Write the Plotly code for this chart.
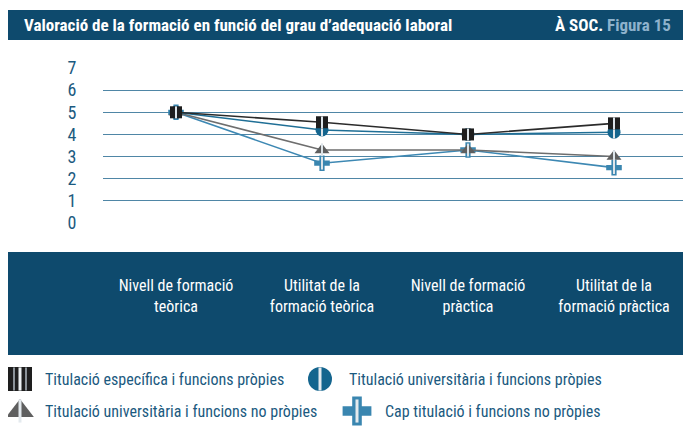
import plotly.graph_objects as go

W, H = 691, 436
OFF = 8  # page offset of the figure in the browser window

# data
categories = ['Nivell de formació<br>teòrica', 'Utilitat de la<br>formació teòrica',
              'Nivell de formació<br>pràctica', 'Utilitat de la<br>formació pràctica']
y_ticks = [0, 1, 2, 3, 4, 5, 6, 7]

especifica_propies = [5.0, 4.55, 4.0, 4.5]
universitaria_propies = [5.0, 4.2, 4.0, 4.1]
universitaria_no_propies = [5.0, 3.3, 3.3, 3.0]
cap_no_propies = [5.0, 2.7, 3.3, 2.5]

series_names = ['Titulació específica i funcions pròpies',
                'Titulació universitària i funcions pròpies',
                'Titulació universitària i funcions no pròpies',
                'Cap titulació i funcions no pròpies']

FONT = 'Roboto, sans-serif'
DARK_BLUE = '#0e4a6d'
TEXT_BLUE = '#1b5a80'


def cond(t):
    # condensed width of the variable Roboto font
    return "<span style='font-stretch:condensed'>" + t + "</span>"


def px(x):
    return (x - OFF) / W


def py(y):
    return 1 - (y - OFF) / H


# style per series: line colour, marker symbol, marker colour, marker size
styles = [
    ('#2b2b2b', 'square', '#1e1e1e', 12),
    ('#1f6f96', 'circle', '#14658e', 13),
    ('#6e6e6e', 'triangle-up', '#5f5f5f', 13),
    ('#3d88b3', 'cross', '#3a86b0', 13),
]
STRIPE = '#dce4e9'

x_idx = list(range(len(categories)))
fig = go.Figure()

all_series = [especifica_propies, universitaria_propies, universitaria_no_propies, cap_no_propies]
for vals, (lc, sym, mc, ms), name in reversed(list(zip(all_series, styles, series_names))):
    fig.add_trace(go.Scatter(
        x=x_idx, y=vals, name=name, mode='lines+markers',
        line=dict(color=lc, width=1.6),
        marker=dict(symbol=sym, size=ms, color=mc, line=dict(width=0)),
        showlegend=False, hoverinfo='x+y+name',
    ))
    # light centre stripe on the markers
    fig.add_trace(go.Scatter(
        x=x_idx, y=vals, mode='markers',
        marker=dict(symbol='line-ns-open', size=ms / 1.45, color=STRIPE, line=dict(width=2)),
        showlegend=False, hoverinfo='skip',
    ))

# legend icons on a pixel overlay subplot (window coordinates)
leg_x = [20, 320, 20, 357]
leg_y = [379, 379, 411, 411]
for i, ((lc, sym, mc, ms), lx, ly) in enumerate(zip(styles, leg_x, leg_y)):
    fig.add_trace(go.Scatter(
        x=[lx], y=[ly], mode='markers', xaxis='x2', yaxis='y2',
        marker=dict(symbol=sym, size=24, color=mc, line=dict(width=0)),
        showlegend=False, hoverinfo='skip',
    ))
    if i == 0:
        sx, sc, sw = [lx - 6, lx + 6, lx], ['#8c9399', '#8c9399', '#eef2f4'], [2, 2, 3]
    else:
        sx, sc, sw = [lx], ['#e4eaee'], [3]
    fig.add_trace(go.Scatter(
        x=sx, y=[ly] * len(sx), mode='markers', xaxis='x2', yaxis='y2',
        marker=dict(symbol='line-ns-open', size=16.5, color=sc, line=dict(width=sw)),
        showlegend=False, hoverinfo='skip',
    ))

leg_text_x = [43, 347, 43, 383]
for name, tx, ty in zip(series_names, leg_text_x, leg_y):
    fig.add_annotation(x=px(tx), y=py(ty), xref='paper', yref='paper',
                       xanchor='left', yanchor='middle', showarrow=False,
                       text=cond(name), font=dict(family=FONT, size=16, color=TEXT_BLUE))

# title bar and category band
fig.add_shape(type='rect', xref='paper', yref='paper', layer='below',
              x0=0, x1=px(686), y0=py(40), y1=py(10),
              fillcolor=DARK_BLUE, line=dict(width=0))
fig.add_shape(type='rect', xref='paper', yref='paper', layer='below',
              x0=0, x1=px(686), y0=py(355), y1=py(252),
              fillcolor=DARK_BLUE, line=dict(width=0))

fig.add_annotation(x=px(22), y=py(25), xref='paper', yref='paper',
                   xanchor='left', yanchor='middle', showarrow=False,
                   text=cond('<b>Valoració de la formació en funció del grau d’adequació laboral</b>'),
                   font=dict(family=FONT, size=17, color='white'))
fig.add_annotation(x=px(673), y=py(25), xref='paper', yref='paper',
                   xanchor='right', yanchor='middle', showarrow=False,
                   text=cond("<b>À SOC. <span style='color:#8db2cc'>Figura 15</span></b>"),
                   font=dict(family=FONT, size=17, color='white'))

fig.update_layout(
    width=W, height=H,
    margin=dict(l=0, r=0, t=0, b=0),
    paper_bgcolor='white', plot_bgcolor='rgba(0,0,0,0)',
    font=dict(family=FONT),
    xaxis=dict(domain=[px(103), px(687)], range=[-0.5, 3.5], automargin=False,
               tickvals=x_idx, ticktext=[cond(c) for c in categories], showgrid=False,
               zeroline=False, showline=False,
               ticks='outside', ticklen=48, tickcolor='rgba(0,0,0,0)',
               tickfont=dict(family=FONT, size=16, color='white')),
    yaxis=dict(domain=[py(223), py(68)], range=[0, 7], automargin=False,
               tickvals=y_ticks, ticktext=[cond(str(v)) for v in y_ticks],
               showgrid=True, gridcolor='#4f86a6', gridwidth=1,
               zeroline=False, showline=False,
               ticks='outside', ticklen=22, tickcolor='rgba(0,0,0,0)',
               tickfont=dict(family=FONT, size=18, color=TEXT_BLUE)),
    xaxis2=dict(domain=[0, 1], range=[OFF, OFF + W], anchor='y2', visible=False,
                fixedrange=True, automargin=False),
    yaxis2=dict(domain=[0, 1], range=[OFF + H, OFF], anchor='x2', visible=False,
                fixedrange=True, automargin=False),
)

fig.write_html('out.html')
